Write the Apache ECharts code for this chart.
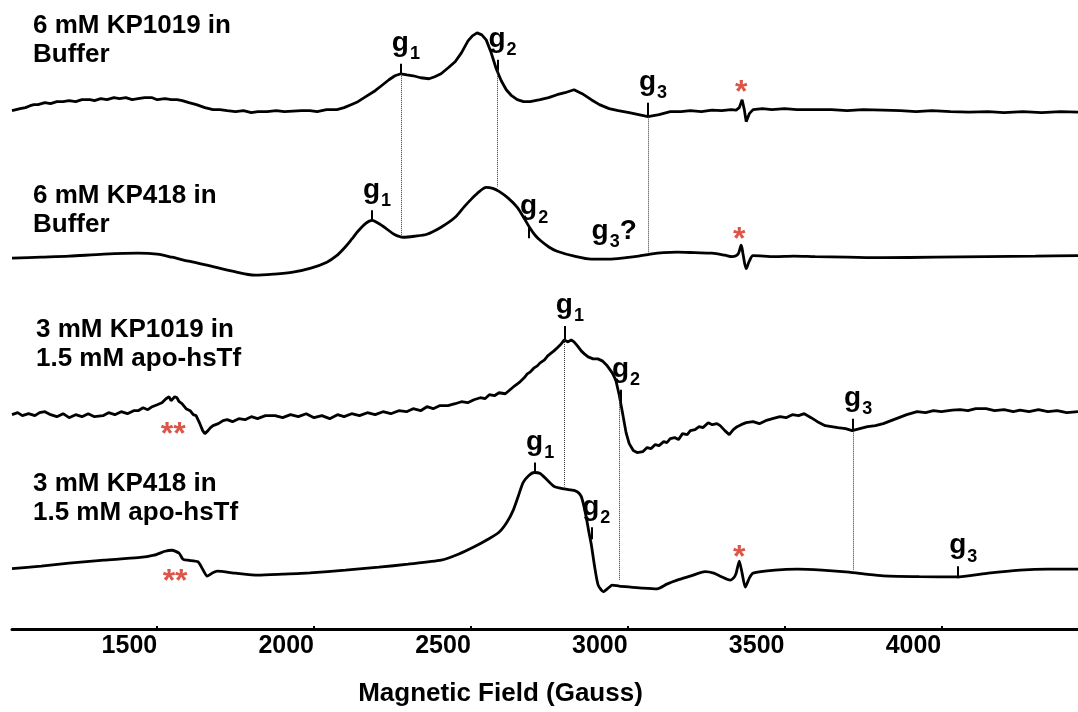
<!DOCTYPE html>
<html><head><meta charset="utf-8">
<script src="https://cdn.jsdelivr.net/npm/echarts@6/dist/echarts.min.js"></script>
<style>html,body{margin:0;padding:0;background:#fff}#c{width:1078px;height:712px}</style>
</head><body><div id="c"></div>
<script>
const FONT = "'Liberation Sans', Arial, Helvetica, sans-serif";
const fieldMin = 1037, fieldMax = 4436;
const tickValues = [1500, 2000, 2500, 3000, 3500, 4000];
const axisTitle = 'Magnetic Field (Gauss)';
const sampleNames = ['6 mM KP1019 in\nBuffer', '6 mM KP418 in\nBuffer', '3 mM KP1019 in\n1.5 mM apo-hsTf', '3 mM KP418 in\n1.5 mM apo-hsTf'];

// spectra: [field (G), signal (arb. units, stacked)]
const kp1019Buffer = [[1037,520],[1050,521],[1063,522],[1080,523],[1095,525],[1107,526],[1120,526],[1142,528],[1160,527],[1180,529],[1200,529],[1219,530],[1240,529],[1260,531],[1286,531],[1300,530],[1320,532],[1340,531],[1362,533],[1380,532],[1400,533],[1420,531],[1439,532],[1460,533],[1484,533],[1500,531],[1525,532],[1545,531],[1563,531],[1580,530],[1601,528],[1625,526],[1652,523],[1678,521],[1700,521],[1723,520],[1750,519],[1775,520],[1800,518],[1821,519],[1850,519],[1880,520],[1905,519],[1933,519.5],[1960,520],[1987,520],[2010,519],[2040,521],[2073,521],[2096,523],[2118,526],[2140,529],[2165,534],[2195,540],[2215,545],[2239,551],[2258,555],[2277,557],[2296,556],[2316,555],[2340,553],[2367,552],[2385,554],[2405,557],[2428,563],[2450,569],[2470,578],[2491,590],[2505,595],[2520,598],[2535,596],[2549,591],[2565,578],[2581,562],[2597,550],[2613,541],[2630,535],[2648,531],[2668,529],[2689,529],[2705,530],[2721,531],[2748,533],[2775,536],[2800,538],[2829,541],[2855,537],[2884,531],[2910,526],[2941,522],[2970,520],[3005,518],[3035,516],[3065,514],[3100,516],[3136,519],[3170,519],[3200,520],[3235,519],[3269,520.5],[3300,520],[3330,521],[3346,520.5],[3356,523],[3365,531],[3372,521],[3378,509],[3388,517],[3400,521],[3430,522],[3460,521],[3500,522],[3540,521],[3598,521],[3650,521],[3700,520],[3750,521],[3815,520.5],[3870,520],[3920,519],[3970,520],[4030,519],[4089,518.5],[4150,519],[4200,518],[4260,519],[4320,518],[4380,519],[4436,518.5]];

const kp418Buffer = [[1037,372],[1130,373],[1219,374],[1330,376],[1439,377],[1500,376],[1547,373],[1600,369],[1659,365],[1740,359],[1812,355],[1870,356],[1933,358],[1990,362],[2041,368],[2070,374],[2096,382],[2120,391],[2140,399],[2165,407],[2185,410],[2205,407],[2229,402],[2255,396],[2284,393],[2320,394],[2360,396],[2405,403],[2450,413],[2480,424],[2504,432],[2528,439],[2549,443],[2570,442],[2590,439],[2620,432],[2648,423],[2670,412],[2689,402],[2705,395],[2721,390],[2750,383],[2775,379],[2830,374],[2884,371],[2940,371],[2995,372.5],[3035,374],[3072,376],[3115,377.5],[3158,378],[3215,377.5],[3269,377],[3310,375],[3333,373.5],[3352,376],[3362,385],[3368,376],[3378,361.5],[3388,369],[3400,374.5],[3470,373.5],[3530,374],[3598,373.5],[3700,373],[3815,372.5],[3980,373],[4143,373.5],[4300,374],[4436,374.5]];

const kp1019Tf = [[1037,215],[1055,217],[1070,214],[1090,216],[1110,214],[1125,217],[1142,218],[1160,215],[1180,213],[1200,216],[1219,212],[1240,215],[1260,213],[1280,216],[1300,213],[1327,214],[1345,217],[1365,215],[1385,218],[1405,216],[1425,219],[1439,219],[1455,222],[1470,220],[1484,223],[1500,225],[1515,227],[1528,231],[1538,233],[1544,229],[1550,231],[1556,233],[1563,232],[1570,228],[1579,226],[1592,221],[1605,219],[1615,215],[1624,214],[1636,206],[1645,199],[1652,196],[1662,199],[1670,202],[1678,204],[1695,206],[1710,209],[1723,210],[1740,208],[1760,211],[1780,210],[1800,213],[1820,211],[1845,214],[1876,214],[1900,212],[1925,215],[1950,213],[1975,216],[2000,212],[2025,214],[2050,211],[2075,215],[2096,213],[2120,216],[2145,214],[2170,217],[2195,215],[2220,218],[2245,216],[2270,219],[2295,218],[2316,221],[2340,219],[2360,223],[2380,221],[2400,224],[2427,224],[2450,226],[2470,228],[2490,227],[2510,230],[2530,232],[2545,231],[2559,235],[2575,234],[2590,237],[2610,236],[2625,240],[2640,244],[2657,248],[2670,252],[2680,256],[2690,258],[2702,262],[2712,264],[2721,267],[2735,270],[2745,274],[2753,276],[2765,279],[2775,282],[2788,286],[2798,290],[2810,288],[2820,290],[2829,288],[2840,284],[2852,279],[2862,276],[2874,273],[2890,271],[2905,271],[2919,269],[2935,264],[2951,257],[2962,250],[2973,235],[2983,218],[2995,197],[3005,186],[3018,179],[3030,177],[3049,178],[3062,182],[3075,181],[3088,185],[3100,184],[3115,188],[3125,187],[3136,191],[3150,192],[3162,190],[3175,196],[3190,195],[3200,199],[3215,200],[3228,203],[3240,202],[3257,207],[3270,205],[3285,206],[3295,204],[3310,199],[3324,195],[3337,200],[3349,203],[3362,205],[3378,207],[3400,208],[3420,206],[3440,209],[3462,211],[3486,213],[3505,212],[3525,215],[3545,214],[3563,216],[3585,212],[3605,208],[3630,204],[3650,203],[3670,202],[3695,201],[3716,199],[3740,201],[3765,203],[3790,204],[3815,206],[3840,209],[3865,212],[3890,215],[3923,218],[3950,217],[3975,219],[4000,218],[4035,219.5],[4060,220],[4085,219],[4110,221],[4143,221],[4170,219],[4200,220],[4230,218],[4251,219.5],[4280,218],[4310,220],[4340,218],[4370,219],[4400,217],[4436,218]];

const kp418Tf = [[1037,60.5],[1130,63],[1219,66],[1330,69],[1439,71.5],[1490,74],[1525,78],[1547,79],[1570,76],[1582,70],[1598,69],[1630,67.4],[1645,60],[1659,53],[1675,56],[1691,58],[1750,56],[1821,54],[1900,55],[1987,56.3],[2100,59],[2207,62],[2300,65],[2405,69],[2460,75],[2514,83],[2555,90],[2590,97],[2615,107],[2635,119],[2652,134],[2667,147],[2685,154],[2702,157],[2721,156],[2745,149],[2766,143],[2798,140.5],[2829,139],[2842,137],[2852,133],[2860,124],[2868,112],[2876,98],[2884,85],[2895,62],[2906,44],[2922,37.5],[2938,41],[2951,44],[2973,43],[3010,42],[3049,41],[3094,40.3],[3125,45],[3158,49],[3200,53],[3247,57.5],[3275,56],[3295,53],[3327,49],[3340,52],[3346,56],[3356,68],[3365,56],[3375,42],[3388,51],[3400,56],[3470,59],[3541,60],[3620,59],[3706,57],[3760,55],[3815,53.3],[3930,52.5],[4057,52.3],[4150,56],[4251,59],[4340,60],[4436,60]];

// g-value markers: [field, tick bottom, tick top, subscript]
const gMarkers = [[2277,557,567,'1'],[2585,560,571,'2'],[3065,514,528,'3'],[2185,410,420,'1'],[2686,392,403,'2'],[2800,291,304,'1'],[2979,228,240,'2'],[3719,199,211,'3'],[2705,157,167,'1'],[2884,90,102,'2'],[4054,51,63,'3']];
const gQuestion = [2957, 399];
const asterisks = [[3362, 546], [3356, 398], [3356, 79]];
const doubleAsterisks = [[1551, 202], [1557, 55]];
// dotted guide lines: [field, top, bottom]
const dottedGuides = [[2277,557,394],[2583,561,444],[3065,514,377],[2798,290,143],[2974,235,49],[3719,199,59]];

const labelTops = [11, 181, 315, 469];
const labelLefts = [33, 33, 36, 33];

const richG = {
  g: {fontSize: 28, fontWeight: 'bold', color: '#000', fontFamily: FONT, lineHeight: 30},
  s: {fontSize: 18, fontWeight: 'bold', color: '#000', fontFamily: FONT, lineHeight: 30, verticalAlign: 'top', padding: [17, 0, 0, 1]},
  q: {fontSize: 28, fontWeight: 'bold', color: '#000', fontFamily: FONT, lineHeight: 30}
};

const chart = echarts.init(document.getElementById('c'));
const lineSeries = (data, smooth) => ({
  type: 'line', data, showSymbol: false, smooth: smooth, silent: true,
  lineStyle: {color: '#000', width: 2.8}, z: 3
});
const gLabelBase = {show: true, color: '#000', textBorderWidth: 0, opacity: 1, rich: richG};

chart.setOption({
  animation: false,
  backgroundColor: '#fff',
  title: sampleNames.map((t, i) => ({
    text: t, left: labelLefts[i], top: labelTops[i], padding: 0,
    textStyle: {fontSize: 26, fontWeight: 'bold', color: '#000', fontFamily: FONT, lineHeight: 29}
  })),
  grid: {left: 12, right: 0, top: 0, bottom: 81},
  xAxis: {
    type: 'value', min: fieldMin, max: fieldMax,
    name: axisTitle, nameLocation: 'middle', nameGap: 52,
    nameTextStyle: {fontSize: 26, fontWeight: 'bold', color: '#000', fontFamily: FONT, padding: [0, 89, 0, 0]},
    axisLine: {show: true, lineStyle: {color: '#000', width: 3}},
    axisTick: {show: true, inside: true, length: 3, customValues: tickValues, lineStyle: {color: '#000', width: 2}},
    axisLabel: {show: true, customValues: tickValues, formatter: v => String(v), align: 'right', margin: 5, fontSize: 25, fontWeight: 'bold', color: '#000', fontFamily: FONT},
    splitLine: {show: false}
  },
  yAxis: {type: 'value', min: 0, max: 631, show: false},
  series: [
    lineSeries(kp1019Buffer, false),
    lineSeries(kp418Buffer, 0.3),
    lineSeries(kp1019Tf, false),
    lineSeries(kp418Tf, 0.2),
    {
      type: 'scatter', silent: true, z: 5,
      symbolSize: 1, itemStyle: {color: 'transparent'},
      emphasis: {disabled: true},
      data: gMarkers.map(m => ({
        value: [m[0], m[2]],
        label: Object.assign({position: 'top', distance: 5, offset: [5, 0], formatter: '{g|g}{s|' + m[3] + '}'}, gLabelBase)
      })).concat([{
        value: gQuestion,
        label: Object.assign({position: 'inside', formatter: '{g|g}{s|3}{q|?}'}, gLabelBase)
      }]),
      markLine: {
        silent: true, symbol: ['none', 'none'], label: {show: false},
        lineStyle: {color: '#000', width: 2, type: 'solid', opacity: 1},
        emphasis: {disabled: true},
        data: gMarkers.map(m => [{coord: [m[0], m[1]]}, {coord: [m[0], m[2]]}])
      }
    },
    {
      type: 'scatter', silent: true, z: 5,
      symbolSize: 1, itemStyle: {color: 'transparent'},
      emphasis: {disabled: true},
      data: asterisks.map(a => ({value: a, label: {show: true, position: 'inside', offset: [0, 8], formatter: '*', fontSize: 32, fontWeight: 'bold', color: '#d42a1c', textBorderWidth: 0, fontFamily: FONT}}))
        .concat(doubleAsterisks.map(a => ({value: a, label: {show: true, position: 'inside', offset: [0, 8], formatter: '**', fontSize: 32, fontWeight: 'bold', color: '#d42a1c', textBorderWidth: 0, fontFamily: FONT}}))),
      markLine: {
        silent: true, symbol: ['none', 'none'], label: {show: false},
        lineStyle: {color: '#333', width: 1, type: 'dotted', opacity: 1},
        emphasis: {disabled: true},
        data: dottedGuides.map(d => [{coord: [d[0], d[1]]}, {coord: [d[0], d[2]]}])
      }
    }
  ]
});
</script>
</body></html>
